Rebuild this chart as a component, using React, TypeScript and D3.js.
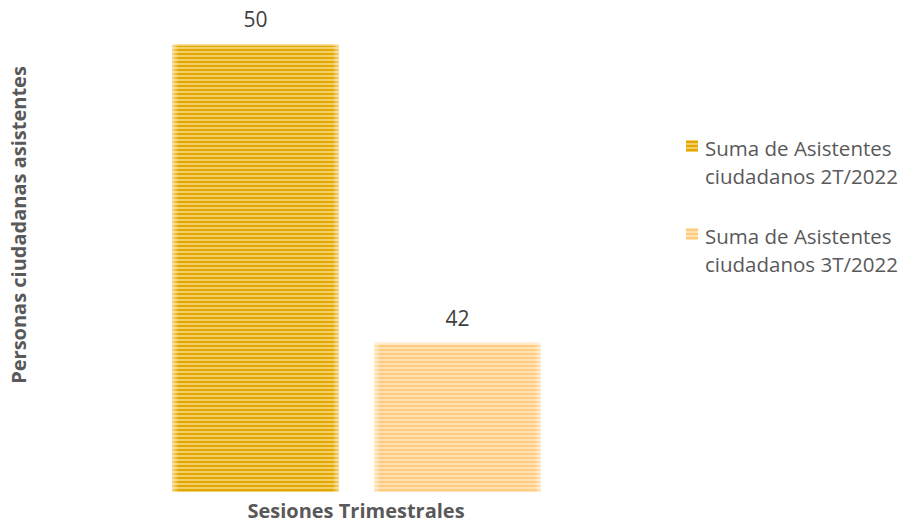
import React, { useEffect, useRef } from 'react';
import * as d3 from 'd3';

const series = ['Suma de Asistentes ciudadanos 2T/2022', 'Suma de Asistentes ciudadanos 3T/2022'];
const legendLines = [
  ['Suma de Asistentes', 'ciudadanos 2T/2022'],
  ['Suma de Asistentes', 'ciudadanos 3T/2022'],
];
const values = [50, 42];
const darkColors = ['#E3A800', '#FFCB7E'];
const lightColors = ['#F2CF6A', '#FFE2B4'];
const yTitle = 'Personas ciudadanas asistentes';
const xTitle = 'Sesiones Trimestrales';

const width = 907;
const height = 525;
const font = "'Open Sans', 'DejaVu Sans', sans-serif";

const App: React.FC = () => {
  const svgRef = useRef<SVGSVGElement>(null);

  useEffect(() => {
    if (!svgRef.current) return;
    const svg = d3.select(svgRef.current);
    svg.selectAll('*').remove();

    const defs = svg.append('defs');

    // striped fill for each series
    series.forEach((_, i) => {
      const p = defs.append('pattern')
        .attr('id', `stripe${i}`)
        .attr('patternUnits', 'userSpaceOnUse')
        .attr('width', 8)
        .attr('height', 4);
      p.append('rect').attr('width', 8).attr('height', 4).attr('fill', lightColors[i]);
      p.append('rect').attr('y', 1).attr('width', 8).attr('height', 2).attr('fill', darkColors[i]);
    });

    // soft glow at the bar edges
    const edge = defs.append('linearGradient').attr('id', 'edgeFade');
    [[0, 0.55], [0.04, 0], [0.96, 0], [1, 0.55]].forEach(([o, a]) => {
      edge.append('stop').attr('offset', o).attr('stop-color', '#fff').attr('stop-opacity', a);
    });

    const x = d3.scaleBand<string>()
      .domain(series)
      .range([172, 541])
      .paddingInner(0.173)
      .paddingOuter(0);

    const y = d3.scaleLinear()
      .domain([38, 50])
      .range([492, 44]);

    const g = svg.append('g');

    series.forEach((s, i) => {
      const bx = x(s)!;
      const by = y(values[i]);
      const bh = y(38) - by;
      g.append('rect')
        .attr('x', bx).attr('y', by)
        .attr('width', x.bandwidth()).attr('height', bh)
        .attr('fill', `url(#stripe${i})`);
      g.append('rect')
        .attr('x', bx).attr('y', by)
        .attr('width', x.bandwidth()).attr('height', bh)
        .attr('fill', 'url(#edgeFade)');
      g.append('rect')
        .attr('x', bx).attr('y', by)
        .attr('width', x.bandwidth()).attr('height', 2)
        .attr('fill', '#fff').attr('opacity', 0.4);

      g.append('text')
        .attr('x', bx + x.bandwidth() / 2)
        .attr('y', by - 17)
        .attr('text-anchor', 'middle')
        .attr('font-family', font)
        .attr('font-size', 21)
        .attr('fill', '#404040')
        .text(values[i]);
    });

    // axis titles
    svg.append('text')
      .attr('transform', 'translate(26,225) rotate(-90)')
      .attr('text-anchor', 'middle')
      .attr('font-family', font)
      .attr('font-weight', 'bold')
      .attr('font-size', 20)
      .attr('fill', '#595959')
      .text(yTitle);

    svg.append('text')
      .attr('x', 356)
      .attr('y', 518)
      .attr('text-anchor', 'middle')
      .attr('font-family', font)
      .attr('font-weight', 'bold')
      .attr('font-size', 20)
      .attr('fill', '#595959')
      .text(xTitle);

    // legend
    const legend = svg.append('g');
    legendLines.forEach((lines, i) => {
      const ly = 140 + i * 88;
      const item = legend.append('g');
      item.append('rect')
        .attr('x', 686).attr('y', ly)
        .attr('width', 12).attr('height', 12)
        .attr('fill', `url(#stripe${i})`);
      lines.forEach((t, j) => {
        item.append('text')
          .attr('x', 705)
          .attr('y', ly + 16 + j * 28)
          .attr('font-family', font)
          .attr('font-size', 20.5)
          .attr('fill', '#595959')
          .text(t);
      });
    });
  }, []);

  return (
    <svg ref={svgRef} width={width} height={height}
      style={{ position: 'absolute', left: 0, top: 0, background: '#fff' }} />
  );
};

export default App;
